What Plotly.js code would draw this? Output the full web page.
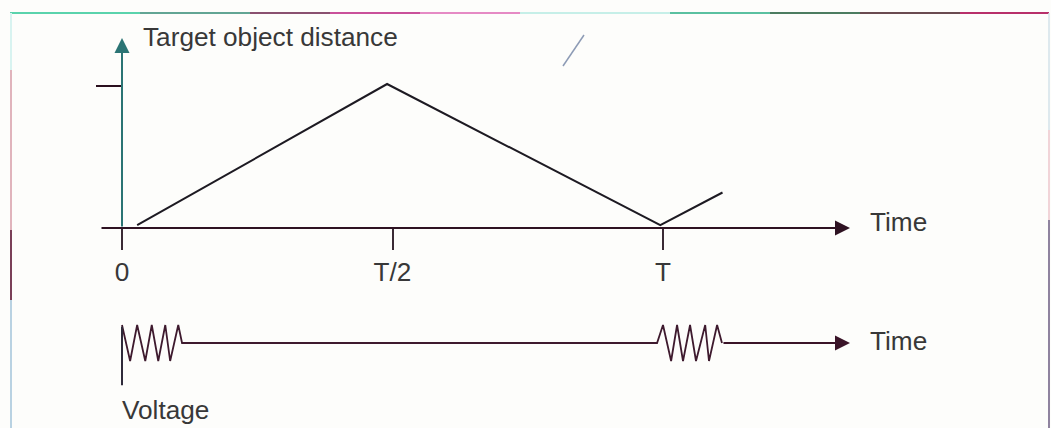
<!DOCTYPE html>
<html>
<head>
<meta charset="utf-8">
<script src="https://cdn.plot.ly/plotly-3.0.1.min.js"></script>
<style>
  html, body { margin: 0; padding: 0; background: #fdfdfb; }
  #chart { width: 1051px; height: 428px; }
</style>
</head>
<body>
<div id="chart"></div>
<script>
// Time axis ticks (in units of the period T)
const timeTicks = [0, 0.5, 1];
const timeTickLabels = ['0', 'T/2', 'T'];

// Target object distance over time (triangle sweep, normalised to the marked level 1)
const distanceTime = [0.028, 0.49, 0.995, 1.11];
const distanceValue = [0.02, 1.014, 0.02, 0.25];

// Distance axis tick (the marked maximum level)
const distanceTicks = [1];

// Voltage over time: oscillation bursts at 0 and T, flat in between
const voltageTime = [0, 0.015, 0.028, 0.043, 0.055, 0.067, 0.080, 0.089, 0.104, 0.111,
                     0.989, 1.0, 1.015, 1.026, 1.037, 1.05, 1.061, 1.078, 1.085, 1.1, 1.109];
const voltageValue = [1, -1, 1, -1, 1, -1, 1, -1, 1, 0,
                      0, 1, -1, 1, -1, 1, -1, 1, -1, 1, 0];

const W = 1051, H = 428;
const FONT = '"Liberation Sans", Arial, sans-serif';
const FONT_SIZE = 26.2;
const TEXT = '#383838';
const INK = '#1d1a22';

// pixel geometry of the drawing
const x0px = 122, tUnitPx = 541;       // time 0 and width of one period
const d0px = 228, dUnitPx = 142;       // distance baseline and unit height
const v0px = 343, vUnitPx = 18;        // voltage baseline and unit amplitude

const xRange = [-x0px / tUnitPx, (W - x0px) / tUnitPx];
const yRange = [(d0px - H) / dUnitPx, d0px / dUnitPx];
const y2Range = [(v0px - H) / vUnitPx, v0px / vUnitPx];

const axisStart = -22 / tUnitPx;          // time axis begins a little left of 0
const arrowTip = (850 - x0px) / tUnitPx;  // arrow tips of both time axes
const distAxisTop = (d0px - 38) / dUnitPx;

const traces = [
  {
    x: distanceTime, y: distanceValue, xaxis: 'x', yaxis: 'y',
    mode: 'lines', line: { color: INK, width: 2 }, hoverinfo: 'skip'
  },
  {
    x: voltageTime, y: voltageValue, xaxis: 'x', yaxis: 'y2',
    mode: 'lines', line: { color: '#3e1a2e', width: 1.8 }, hoverinfo: 'skip'
  }
];

// frame of the figure, drawn in short segments of slightly varying colour
const topEdge = [[10, 140, '#5ad3ac'], [140, 250, '#62a594'], [250, 330, '#8a5070'],
                 [330, 420, '#c9509a'], [420, 520, '#e58ac4'], [520, 670, '#c6efe8'],
                 [670, 770, '#5ac0a0'], [770, 860, '#4c7c60'], [860, 960, '#6a4a50'],
                 [960, 1049, '#b8306a']];
const leftEdge = [[13, 70, '#d8f3f0'], [70, 230, '#e0b4bc'], [230, 300, '#7a4058'], [300, 428, '#b9d2e2']];
const rightEdge = [[13, 130, '#d3e2ea'], [130, 220, '#ecc6cc'], [220, 428, '#6a5a80']];

const shapes = [];
const px = v => v / W, py = v => 1 - v / H;
topEdge.forEach(([a, b, c]) => shapes.push({
  type: 'line', xref: 'paper', yref: 'paper', x0: px(a), x1: px(b), y0: py(13), y1: py(13),
  line: { color: c, width: 2 }
}));
leftEdge.forEach(([a, b, c]) => shapes.push({
  type: 'line', xref: 'paper', yref: 'paper', x0: px(11), x1: px(11), y0: py(a), y1: py(b),
  line: { color: c, width: 2 }
}));
rightEdge.forEach(([a, b, c]) => shapes.push({
  type: 'line', xref: 'paper', yref: 'paper', x0: px(1049), x1: px(1049), y0: py(a), y1: py(b),
  line: { color: c, width: 1.5 }
}));
// small pen stroke near the top
shapes.push({
  type: 'line', xref: 'paper', yref: 'paper', x0: px(563), x1: px(584), y0: py(66), y1: py(35),
  line: { color: '#8d9bb5', width: 1.5 }
});
// voltage axis stub at time 0
shapes.push({
  type: 'line', xref: 'x', yref: 'y2', x0: 0, x1: 0, y0: 0.9, y1: -2.35,
  line: { color: '#2f2a3a', width: 2 }
});

const arrow = (x, y, ax, ay, yref, color) => ({
  x, y, ax, ay, xref: 'x', yref, axref: 'x', ayref: yref,
  text: '', showarrow: true, arrowhead: 2, arrowsize: 1.5, arrowwidth: 2, arrowcolor: color
});
const label = (text, x, y, yref) => ({
  text, x, y, xref: 'x', yref, xanchor: 'left', yanchor: 'middle', showarrow: false,
  font: { family: FONT, size: FONT_SIZE, color: TEXT }
});

const annotations = [
  arrow(arrowTip, 0, axisStart, 0, 'y', '#2e1222'),
  arrow(0, distAxisTop, 0, 0, 'y', '#2b7474'),
  arrow(arrowTip, 0, 1.109, 0, 'y2', '#3a1428'),
  label('Target object distance', 19 / tUnitPx, (d0px - 37) / dUnitPx, 'y'),
  label('Time', (868 - x0px) / tUnitPx, (d0px - 222) / dUnitPx, 'y'),
  label('Time', (868 - x0px) / tUnitPx, (v0px - 341) / vUnitPx, 'y2'),
  label('Voltage', -2 / tUnitPx, (v0px - 410) / vUnitPx, 'y2')
];

const layout = {
  width: W, height: H,
  margin: { l: 0, r: 0, t: 0, b: 0 },
  paper_bgcolor: '#fdfdfb', plot_bgcolor: '#fdfdfb',
  showlegend: false,
  xaxis: {
    range: xRange, anchor: 'free', position: 1 - d0px / H,
    showgrid: false, zeroline: false, showline: false,
    tickmode: 'array', tickvals: timeTicks, ticktext: timeTickLabels,
    ticks: 'outside', ticklen: 21, tickwidth: 2, tickcolor: '#3a2a35',
    tickfont: { family: FONT, size: FONT_SIZE, color: TEXT },
    fixedrange: true
  },
  yaxis: {
    range: yRange, anchor: 'free', position: x0px / W,
    showgrid: false, zeroline: false, showline: false,
    tickmode: 'array', tickvals: distanceTicks, showticklabels: false,
    ticks: 'outside', ticklen: 26, tickwidth: 2, tickcolor: '#2a0f1e',
    fixedrange: true
  },
  yaxis2: {
    range: y2Range, overlaying: 'y', visible: false, fixedrange: true
  },
  shapes, annotations
};

Plotly.newPlot('chart', traces, layout, { staticPlot: true, displayModeBar: false });
</script>
</body>
</html>
